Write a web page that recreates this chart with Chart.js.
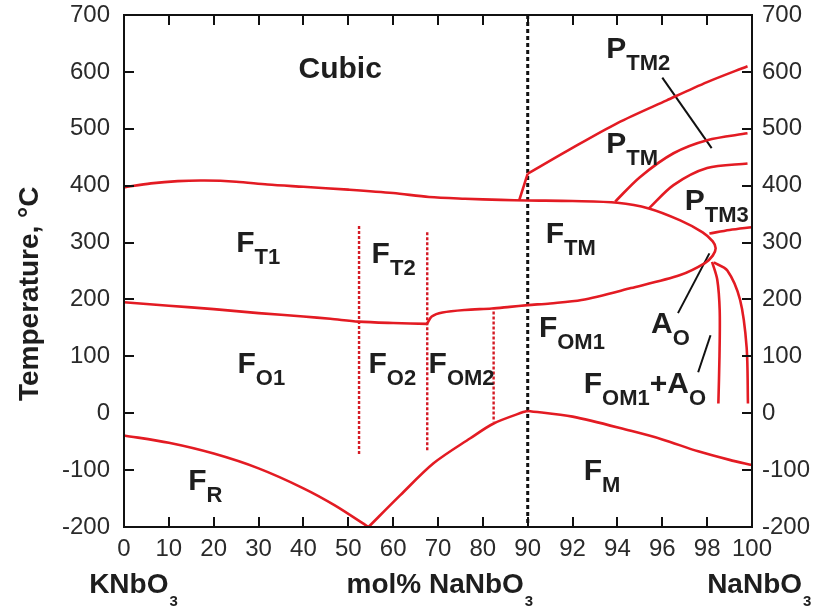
<!DOCTYPE html>
<html>
<head>
<meta charset="utf-8">
<title>KNbO3–NaNbO3 phase diagram</title>
<script src="https://cdn.jsdelivr.net/npm/chart.js@4.4.1/dist/chart.umd.min.js"></script>
<style>
  html, body { margin: 0; padding: 0; background: #fff; }
</style>
</head>
<body>
<canvas id="phaseChart" width="821" height="614"></canvas>
<script>
// composition axis: 0-90 in steps of 10, then 90-100 in steps of 2
const molTicks = [0, 10, 20, 30, 40, 50, 60, 70, 80, 90, 92, 94, 96, 98, 100];

// phase boundaries as [mol% NaNbO3, temperature in °C]
const cubicLoop = [[0, 397], [6, 404], [12, 408], [18, 409], [25, 407], [32, 402], [40, 398], [50, 393],
  [60, 387], [68, 380], [76, 377], [84, 375], [90, 374], [92, 373], [94, 370], [95.4, 360], [96.8, 339],
  [97.8, 318], [98.25, 302], [98.38, 290], [98.25, 277], [97.9, 264], [96.8, 243], [94.6, 220],
  [92.4, 199], [91, 193], [90, 190], [86, 187], [82, 184], [76, 181.5], [71, 177], [68.6, 170], [67.6, 158]];
const orthoLeft = [[0, 195], [10, 189], [20, 183], [30, 176], [40, 170], [46, 166], [52.3, 161], [60, 158.5], [67.6, 157]];
const ptm2Stem = [[88.1, 374], [90, 421]];
const ptm2Line = [[90, 421], [91.8, 462], [94, 510], [96.2, 550], [98, 582], [99.8, 610]];
const ptmLine = [[93.9, 372], [95, 415], [96.5, 457], [98, 480], [99.8, 492]];
const ptm3Line = [[95.4, 360], [96.5, 401], [98, 431], [99.8, 439]];
const ftmLine = [[98.1, 316], [99, 322], [100, 327]];
const aoLeft = [[98.22, 266], [98.45, 235], [98.56, 180], [98.55, 100], [98.5, 17]];
const aoRight = [[98.3, 265], [98.9, 251], [99.47, 199], [99.76, 116], [99.82, 17]];
const fmLine = [[90, 4], [92, -6], [94.6, -31], [96, -46], [97.6, -67], [99, -82], [100, -91]];
const frLeft = [[0, -39], [10, -52], [20, -71], [30, -97], [40, -132], [47, -162], [54.5, -200]];
const frRight = [[54.5, -200], [61.6, -144], [69, -88], [77.2, -44], [82.4, -18], [89, 2], [90, 4]];

// uncertain boundaries (dotted red) and the 90 mol% break (dotted black)
const dashedBounds = [[[52.4, 329], [52.4, -72]], [[67.6, 318], [67.6, -65]], [[82.4, 179], [82.4, -15]]];
const axisBreak = [[90, 700], [90, -200]];

// pointer lines from labels to narrow fields
const leaders = [[[96, 590], [98.2, 466]], [[98.1, 281], [96.7, 176]], [[98.15, 137], [97.6, 72]]];

// field names: anchor [mol%, °C], text pieces (0 = normal, 1 = subscript)
const phaseLabels = [
  { at: [48.2, 589], parts: [['Cubic', 0]], center: true },
  { at: [25.0, 283], parts: [['F', 0], ['T1', 1]] },
  { at: [55.2, 264], parts: [['F', 0], ['T2', 1]] },
  { at: [25.3, 70], parts: [['F', 0], ['O1', 1]] },
  { at: [54.5, 70], parts: [['F', 0], ['O2', 1]] },
  { at: [67.9, 70], parts: [['F', 0], ['OM2', 1]] },
  { at: [14.3, -135], parts: [['F', 0], ['R', 1]] },
  { at: [90.8, 300], parts: [['F', 0], ['TM', 1]] },
  { at: [90.5, 134], parts: [['F', 0], ['OM1', 1]] },
  { at: [92.5, -118], parts: [['F', 0], ['M', 1]] },
  { at: [93.5, 624], parts: [['P', 0], ['TM2', 1]] },
  { at: [93.5, 457], parts: [['P', 0], ['TM', 1]] },
  { at: [97.0, 357], parts: [['P', 0], ['TM3', 1]] },
  { at: [95.5, 141], parts: [['A', 0], ['O', 1]] },
  { at: [92.5, 35], parts: [['F', 0], ['OM1', 1], ['+A', 0], ['O', 1]] }
];

const RED = '#e31b23';
const INK = '#1e1e1e';
const FAMILY = '"Liberation Sans", Arial, sans-serif';

// linear scale with two segments: 10 mol% per step below 90, 2 mol% per step above
class SplitScale extends Chart.LinearScale {
  buildTicks() { return molTicks.map(v => ({ value: v })); }
  toUnit(v) { return v <= 90 ? v / 10 : 9 + (v - 90) / 2; }
  getPixelForValue(v) { return this.getPixelForDecimal(this.toUnit(v) / 14); }
  getValueForPixel(p) {
    const u = this.getDecimalForPixel(p) * 14;
    return u <= 9 ? u * 10 : 90 + (u - 9) * 2;
  }
}
SplitScale.id = 'split';
SplitScale.defaults = Chart.LinearScale.defaults;
Chart.register(SplitScale);

const toXY = pts => pts.map(([x, y]) => ({ x, y }));

function curve(pts, tension = 0.3) {
  return { data: toXY(pts), borderColor: RED, borderWidth: 2.6, tension, pointRadius: 0, clip: false };
}
function dotted(pts, color, width, dash) {
  return { data: toXY(pts), borderColor: color, borderWidth: width, borderDash: dash, tension: 0, pointRadius: 0 };
}

const datasets = [
  curve(cubicLoop), curve(orthoLeft), curve(ptm2Stem, 0), curve(ptm2Line), curve(ptmLine),
  curve(ptm3Line), curve(ftmLine), curve(aoLeft), curve(aoRight), curve(fmLine), curve(frLeft), curve(frRight),
  ...dashedBounds.map(d => dotted(d, '#d41a24', 2.4, [3, 2])),
  dotted(axisBreak, '#111', 3, [4, 3]),
  ...leaders.map(d => dotted(d, '#111', 2, []))
];

function drawPieces(ctx, px, py, parts, center) {
  const fonts = [`bold 30px ${FAMILY}`, `bold 22px ${FAMILY}`];
  const drops = [0, 12];
  let width = 0;
  parts.forEach(([t, k]) => { ctx.font = fonts[k]; width += ctx.measureText(t).width; });
  let cx = center ? px - width / 2 : px;
  parts.forEach(([t, k]) => {
    ctx.font = fonts[k];
    ctx.fillText(t, cx, py + drops[k]);
    cx += ctx.measureText(t).width;
  });
}

function drawFormula(ctx, px, py, text, sub, align) {
  ctx.font = `bold 28px ${FAMILY}`;
  const w = ctx.measureText(text).width;
  ctx.font = `bold 15px ${FAMILY}`;
  const ws = ctx.measureText(sub).width;
  let left = align === 'center' ? px - (w + ws) / 2 : px;
  ctx.font = `bold 28px ${FAMILY}`;
  ctx.fillText(text, left, py);
  ctx.font = `bold 15px ${FAMILY}`;
  ctx.fillText(sub, left + w + 1, py + 13);
}

const decorations = {
  id: 'decorations',
  afterDatasetsDraw(chart) {
    const { ctx, chartArea: a, scales } = chart;
    const x = scales.x, y = scales.y;
    const TICK = 10;
    ctx.save();

    // frame and inward tick marks on all four sides
    ctx.strokeStyle = '#111';
    ctx.lineWidth = 2;
    ctx.strokeRect(a.left, a.top, a.right - a.left, a.bottom - a.top);
    ctx.beginPath();
    x.ticks.forEach((t, i) => {
      const px = Math.round(x.getPixelForTick(i));
      ctx.moveTo(px, a.bottom); ctx.lineTo(px, a.bottom - TICK);
      ctx.moveTo(px, a.top); ctx.lineTo(px, a.top + TICK);
    });
    y.ticks.forEach((t, i) => {
      const py = Math.round(y.getPixelForTick(i));
      ctx.moveTo(a.left, py); ctx.lineTo(a.left + TICK, py);
      ctx.moveTo(a.right, py); ctx.lineTo(a.right - TICK, py);
    });
    ctx.stroke();

    // field names
    ctx.fillStyle = INK;
    ctx.textBaseline = 'alphabetic';
    ctx.textAlign = 'left';
    phaseLabels.forEach(l => {
      drawPieces(ctx, x.getPixelForValue(l.at[0]), y.getPixelForValue(l.at[1]), l.parts, l.center);
    });

    // composition captions under the axis
    const capY = a.bottom + 66;
    drawFormula(ctx, x.getPixelForValue(2), capY, 'KNbO', '3', 'center');
    drawFormula(ctx, x.getPixelForValue(70.3), capY, 'mol% NaNbO', '3', 'center');
    drawFormula(ctx, x.getPixelForValue(98), capY, 'NaNbO', '3', 'left');

    // temperature axis title
    ctx.translate(38, y.getPixelForValue(210));
    ctx.rotate(-Math.PI / 2);
    ctx.textAlign = 'center';
    ctx.font = `bold 28px ${FAMILY}`;
    ctx.fillText('Temperature, °C', 0, 0);
    ctx.restore();
  }
};

const tempAxis = (position, pad, width) => ({
  type: 'linear',
  position,
  min: -200,
  max: 700,
  grid: { display: false, drawTicks: false },
  border: { display: false },
  ticks: { stepSize: 100, padding: pad, color: '#2a2a2a', font: { family: FAMILY, size: 24 } },
  afterFit: s => {
    s.width = width;
    // end labels may overhang the plot; don't reserve room for them
    s.paddingTop = 0;
    s.paddingBottom = 0;
  }
});

new Chart(document.getElementById('phaseChart'), {
  type: 'line',
  data: { datasets },
  plugins: [decorations],
  options: {
    responsive: false,
    animation: false,
    devicePixelRatio: 1,
    layout: { padding: { top: 15, left: 0, right: 0, bottom: 0 } },
    plugins: { legend: { display: false }, tooltip: { enabled: false } },
    scales: {
      x: {
        type: 'split',
        min: 0,
        max: 100,
        grid: { display: false, drawTicks: false },
        border: { display: false },
        ticks: {
          autoSkip: false, maxRotation: 0, padding: 8, color: '#2a2a2a',
          font: { family: FAMILY, size: 24 },
          callback: v => String(v)
        },
        afterFit: s => { s.height = 87; }
      },
      y: tempAxis('left', 14, 124),
      y2: tempAxis('right', 10, 69)
    }
  }
});
</script>
</body>
</html>
